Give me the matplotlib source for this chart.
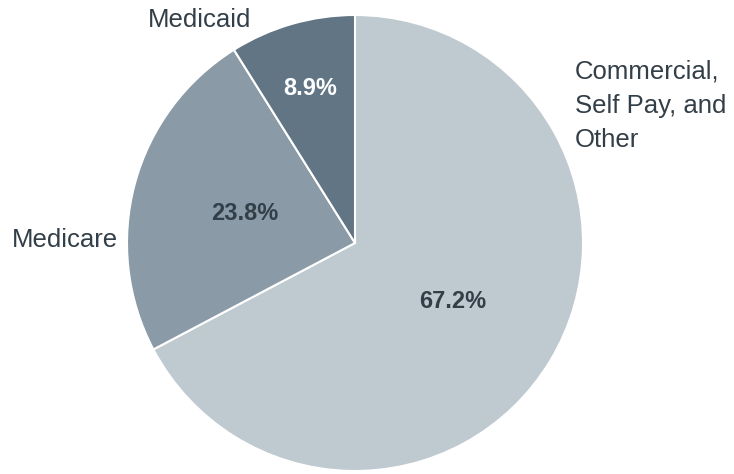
import matplotlib.pyplot as plt

plt.rcParams['font.family'] = ['Liberation Sans', 'DejaVu Sans']

labels = ['Commercial,\nSelf Pay, and\nOther', 'Medicare', 'Medicaid']
shares = [67.2, 23.8, 8.9]
colors = ['#bfc9d0', '#8a9aa7', '#617584']
text_color = '#333f48'

fig = plt.figure(figsize=(7.34, 4.74), dpi=100)
ax = fig.add_axes([0, 0, 1, 1])

wedges, texts, autotexts = ax.pie(
    shares, colors=colors, startangle=90, counterclock=False,
    center=(355, 231), radius=228, autopct='%.1f%%', pctdistance=0.5,
    wedgeprops=dict(edgecolor='white', linewidth=1.5),
    textprops=dict(fontsize=17, fontweight='bold'), frame=True)
ax.axis('off')
ax.set_xlim(0, 734)
ax.set_ylim(0, 474)
ax.set_aspect('equal')

# show the reported values (pie would renormalise them)
for t, v in zip(autotexts, shares):
    t.set_text(f'{v:.1f}%')
autotexts[0].set_color(text_color)
autotexts[1].set_color(text_color)
autotexts[2].set_color('white')
autotexts[2].set_position((310, 474 - 88))

# category labels
ax.text(575, 474 - 106, labels[0], fontsize=18.5, color=text_color,
        ha='left', va='center', linespacing=1.55)
ax.text(118, 474 - 240, labels[1], fontsize=18.5, color=text_color,
        ha='right', va='center')
ax.text(200, 474 - 20, labels[2], fontsize=18.5, color=text_color,
        ha='center', va='center')

fig.savefig('out.png', dpi=100)
